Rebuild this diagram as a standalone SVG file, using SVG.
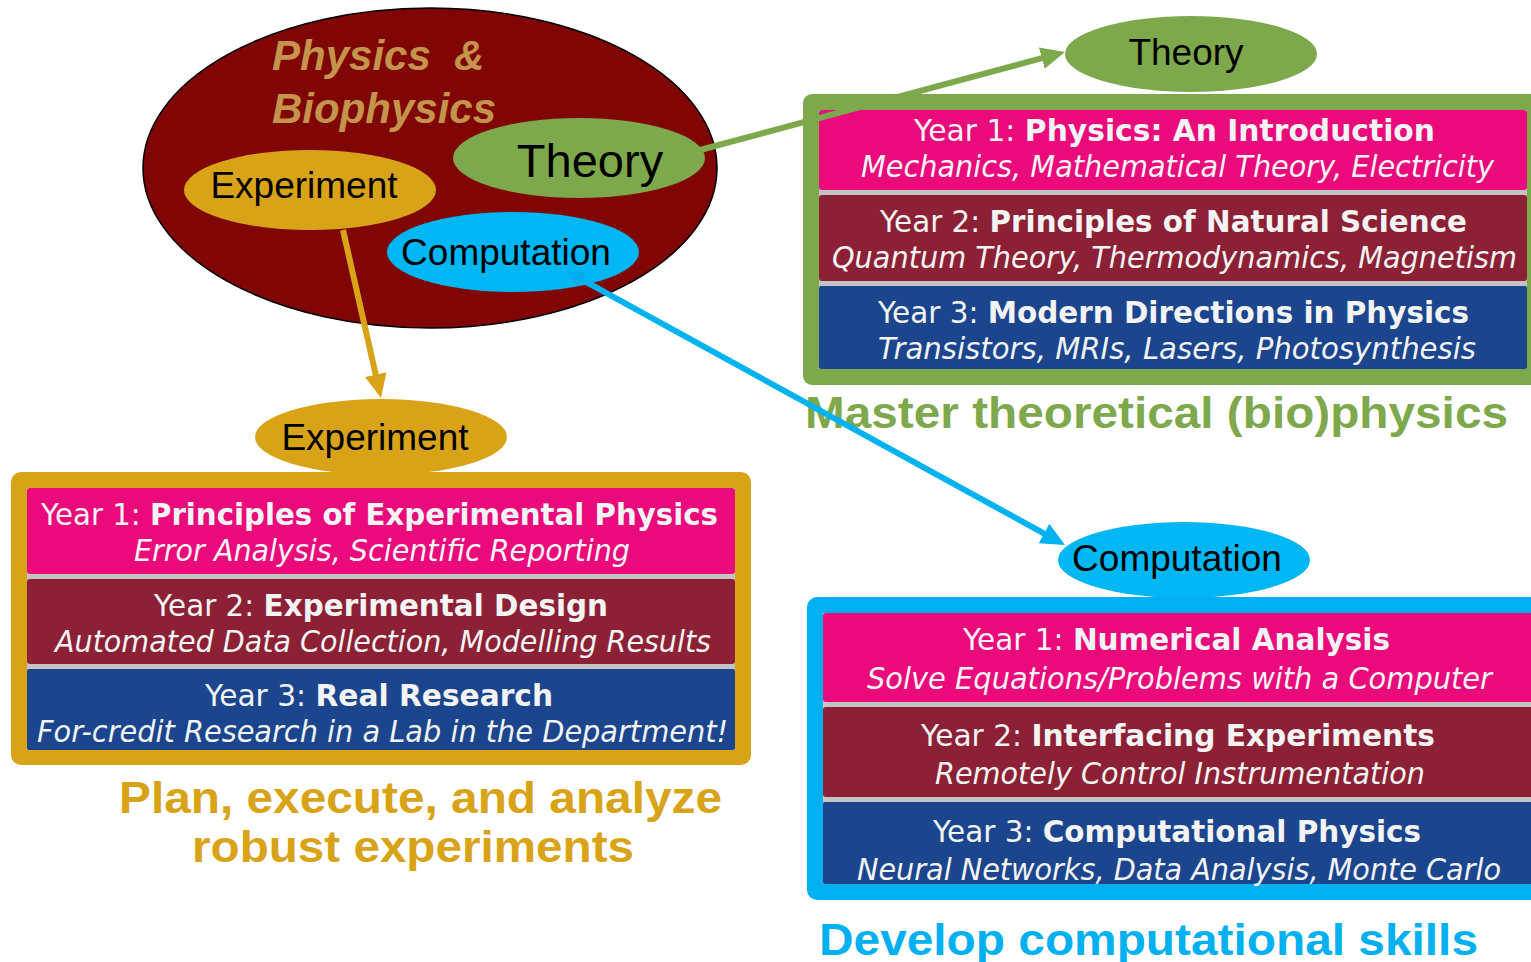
<svg xmlns="http://www.w3.org/2000/svg" width="1531" height="962" viewBox="0 0 1531 962">
<style>
.lbl{font-family:"Liberation Sans",Arial,sans-serif;fill:#000}
.row{font-family:"DejaVu Sans",Verdana,sans-serif;font-size:30px;fill:#F4F4F4}
.b{font-weight:bold}
.it{font-style:italic}
.cap{font-family:"Liberation Sans",Arial,sans-serif;font-weight:bold;font-size:45px}
.pink{fill:#EB0A7B}
.maroon{fill:#8C2136}
.blue{fill:#1B468E}
.sep{fill:#C4C4C4}
</style>
<defs>
<marker id="ah-o" markerUnits="userSpaceOnUse" markerWidth="24" markerHeight="22" viewBox="0 0 24 22" refX="4" refY="11" orient="auto"><path d="M0,0 L24,11 L0,22 z" fill="#D9A318"/></marker>
<marker id="ah-g" markerUnits="userSpaceOnUse" markerWidth="24" markerHeight="22" viewBox="0 0 24 22" refX="4" refY="11" orient="auto"><path d="M0,0 L24,11 L0,22 z" fill="#7DA84B"/></marker>
<marker id="ah-c" markerUnits="userSpaceOnUse" markerWidth="24" markerHeight="22" viewBox="0 0 24 22" refX="4" refY="11" orient="auto"><path d="M0,0 L24,11 L0,22 z" fill="#00B3F0"/></marker>
<marker id="ah-cs" markerUnits="userSpaceOnUse" markerWidth="18" markerHeight="16" viewBox="0 0 18 16" refX="3" refY="8" orient="auto-start-reverse"><path d="M0,0 L18,8 L0,16 z" fill="#00ACEB"/></marker>
</defs>

<g id="hub">
<ellipse cx="430" cy="168" rx="287" ry="160" fill="#800505" stroke="#000" stroke-width="1.5"/>
<text x="272" y="70" font-family="Liberation Sans,Arial,sans-serif" font-weight="bold" font-style="italic" font-size="42" fill="#C4944C" xml:space="preserve">Physics  &amp;</text>
<text x="272" y="123" font-family="Liberation Sans,Arial,sans-serif" font-weight="bold" font-style="italic" font-size="42" fill="#C4944C">Biophysics</text>
</g>
<g id="hub-theory">
<ellipse cx="579" cy="158" rx="126" ry="40" fill="#7DA84B"/>
<text class="lbl" x="590" y="177" font-size="47" text-anchor="middle">Theory</text>
</g>
<g id="hub-experiment">
<ellipse cx="310" cy="190" rx="126" ry="40" fill="#D9A318"/>
<text class="lbl" x="304" y="198" font-size="37" text-anchor="middle">Experiment</text>
</g>
<g id="hub-computation">
<ellipse cx="513" cy="252" rx="126" ry="40" fill="#00B6F3"/>
<text class="lbl" x="506" y="265" font-size="37" text-anchor="middle">Computation</text>
</g>

<g id="theory-label">
<ellipse cx="1191" cy="54" rx="126" ry="38" fill="#7DA84B"/>
<text class="lbl" x="1186" y="65" font-size="37" text-anchor="middle">Theory</text>
</g>
<g id="theory-box">
<rect x="803" y="94" width="745" height="291" rx="9" fill="#7DA84B"/>
<rect class="sep" x="819" y="110" width="708" height="259"/>
<rect class="pink" x="819" y="110" width="708" height="80" rx="3"/>
<rect class="maroon" x="819" y="195" width="708" height="86" rx="3"/>
<rect class="blue" x="819" y="286" width="708" height="83" rx="2"/>
<text class="row" x="914" y="141" textLength="521" lengthAdjust="spacingAndGlyphs">Year 1: <tspan class="b">Physics: An Introduction</tspan></text>
<text class="row it" x="861" y="177" textLength="633" lengthAdjust="spacingAndGlyphs">Mechanics, Mathematical Theory, Electricity</text>
<text class="row" x="880" y="232" textLength="587" lengthAdjust="spacingAndGlyphs">Year 2: <tspan class="b">Principles of Natural Science</tspan></text>
<text class="row it" x="832" y="268" font-size="28" textLength="685" lengthAdjust="spacingAndGlyphs">Quantum Theory, Thermodynamics, Magnetism</text>
<text class="row" x="878" y="323" textLength="591" lengthAdjust="spacingAndGlyphs">Year 3: <tspan class="b">Modern Directions in Physics</tspan></text>
<text class="row it" x="878" y="359" textLength="598" lengthAdjust="spacingAndGlyphs">Transistors, MRIs, Lasers, Photosynthesis</text>
<text class="cap" x="805" y="428" fill="#7DA84B" textLength="703" lengthAdjust="spacingAndGlyphs">Master theoretical (bio)physics</text>
</g>

<g id="experiment-label">
<ellipse cx="381" cy="437" rx="126" ry="38" fill="#D9A318"/>
<text class="lbl" x="375" y="450" font-size="37" text-anchor="middle">Experiment</text>
</g>
<g id="experiment-box">
<rect x="11" y="472" width="740" height="293" rx="10" fill="#D9A318"/>
<rect class="sep" x="27" y="488" width="708" height="262"/>
<rect class="pink" x="27" y="488" width="708" height="86" rx="3"/>
<rect class="maroon" x="27" y="579" width="708" height="85" rx="3"/>
<rect class="blue" x="27" y="669" width="708" height="81" rx="2"/>
<text class="row" x="41" y="525" textLength="677" lengthAdjust="spacingAndGlyphs">Year 1: <tspan class="b">Principles of Experimental Physics</tspan></text>
<text class="row it" x="134" y="561" textLength="496" lengthAdjust="spacingAndGlyphs">Error Analysis, Scientific Reporting</text>
<text class="row" x="154" y="616" textLength="454" lengthAdjust="spacingAndGlyphs">Year 2: <tspan class="b">Experimental Design</tspan></text>
<text class="row it" x="55" y="652" textLength="656" lengthAdjust="spacingAndGlyphs">Automated Data Collection, Modelling Results</text>
<text class="row" x="205" y="706" textLength="348" lengthAdjust="spacingAndGlyphs">Year 3: <tspan class="b">Real Research</tspan></text>
<text class="row it" x="37" y="742" textLength="691" lengthAdjust="spacingAndGlyphs">For-credit Research in a Lab in the Department!</text>
<text class="cap" x="119" y="813" fill="#D9A318" textLength="603" lengthAdjust="spacingAndGlyphs">Plan, execute, and analyze</text>
<text class="cap" x="192" y="862" fill="#D9A318" textLength="442" lengthAdjust="spacingAndGlyphs">robust experiments</text>
</g>

<g id="computation-label">
<ellipse cx="1184" cy="560" rx="126" ry="38" fill="#00B6F3"/>
<text class="lbl" x="1177" y="571" font-size="37" text-anchor="middle">Computation</text>
</g>
<g id="computation-box">
<rect x="807" y="597" width="745" height="303" rx="10" fill="#00B0F0"/>
<rect class="sep" x="823" y="613" width="720" height="271"/>
<rect class="pink" x="823" y="613" width="720" height="89" rx="3"/>
<rect class="maroon" x="823" y="707" width="720" height="90" rx="3"/>
<rect class="blue" x="823" y="802" width="720" height="82" rx="2"/>
<text class="row" x="963" y="650" textLength="427" lengthAdjust="spacingAndGlyphs">Year 1: <tspan class="b">Numerical Analysis</tspan></text>
<text class="row it" x="867" y="689" textLength="625" lengthAdjust="spacingAndGlyphs">Solve Equations/Problems with a Computer</text>
<text class="row" x="921" y="746" textLength="514" lengthAdjust="spacingAndGlyphs">Year 2: <tspan class="b">Interfacing Experiments</tspan></text>
<text class="row it" x="935" y="784" textLength="490" lengthAdjust="spacingAndGlyphs">Remotely Control Instrumentation</text>
<text class="row" x="933" y="842" textLength="488" lengthAdjust="spacingAndGlyphs">Year 3: <tspan class="b">Computational Physics</tspan></text>
<text class="row it" x="857" y="880" textLength="644" lengthAdjust="spacingAndGlyphs">Neural Networks, Data Analysis, Monte Carlo</text>
<text class="cap" x="819" y="955" fill="#00B0F0" textLength="659" lengthAdjust="spacingAndGlyphs">Develop computational skills</text>
</g>

<g id="connectors" fill="none" stroke-width="6">
<line x1="343" y1="230" x2="376.6" y2="378.5" stroke="#D9A318" marker-end="url(#ah-o)"/>
<line x1="700" y1="150" x2="1045.7" y2="57.2" stroke="#7DA84B" marker-end="url(#ah-g)"/>
<line x1="579.2" y1="278.2" x2="1047.5" y2="535.4" stroke="#00B3F0" marker-start="url(#ah-cs)" marker-end="url(#ah-c)"/>
</g>
</svg>
